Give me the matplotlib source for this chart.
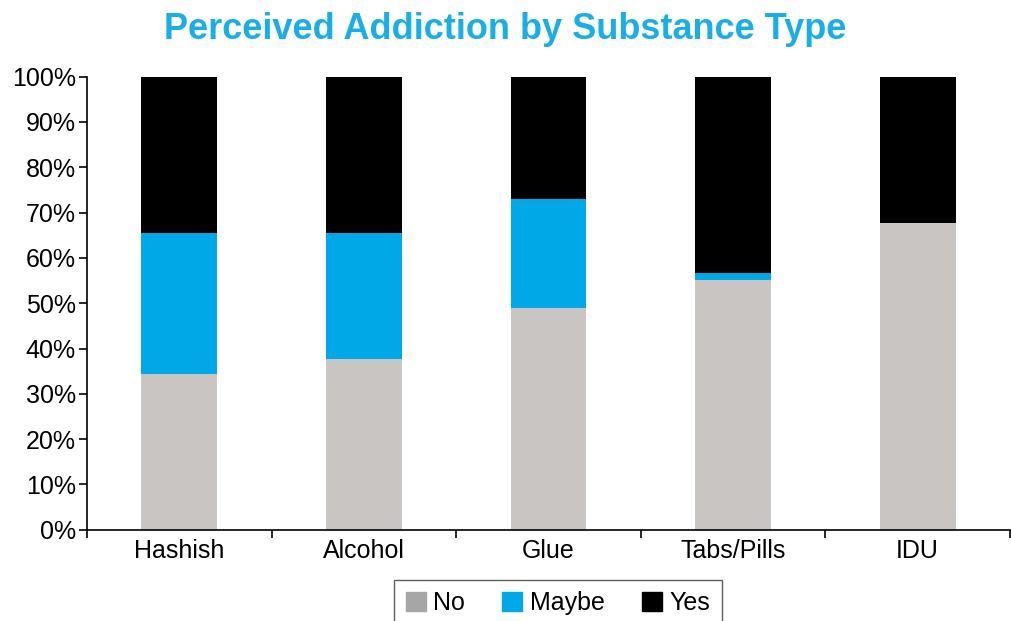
import matplotlib.pyplot as plt
import numpy as np
from matplotlib.patches import Patch
from matplotlib.ticker import FixedLocator, PercentFormatter

plt.rcParams['font.family'] = ['Liberation Sans', 'DejaVu Sans']

categories = ['Hashish', 'Alcohol', 'Glue', 'Tabs/Pills', 'IDU']
no = [34.3, 37.6, 49.0, 55.1, 67.8]
maybe = [31.2, 27.9, 23.9, 1.5, 0.0]
yes = [34.5, 34.5, 27.1, 43.4, 32.2]

grey = '#c8c5c3'
blue = '#00a8e8'
black = '#000000'

fig = plt.figure(figsize=(10.11, 6.21), dpi=100)
ax = fig.add_axes([0.086, 0.147, 0.913, 0.7295])

x = np.arange(len(categories))
w = 0.41
no_arr = np.array(no)
maybe_arr = np.array(maybe)
ax.bar(x, no_arr, width=w, color=grey, linewidth=0)
ax.bar(x, maybe_arr, width=w, bottom=no_arr, color=blue, linewidth=0)
ax.bar(x, yes, width=w, bottom=no_arr + maybe_arr, color=black, linewidth=0)

ax.set_xlim(-0.5, len(categories) - 0.5)
ax.set_ylim(0, 100)
ax.set_yticks(np.arange(0, 101, 10))
ax.yaxis.set_major_formatter(PercentFormatter(decimals=0))
ax.set_xticks(x)
ax.set_xticklabels(categories)
# category separators as minor ticks
ax.xaxis.set_minor_locator(FixedLocator(np.arange(-0.5, len(categories), 1.0)))
ax.tick_params(axis='x', which='major', length=0, pad=7, labelsize=18)
ax.tick_params(axis='x', which='minor', length=6, width=1.2, direction='out')
ax.tick_params(axis='y', length=6, width=1.2, direction='out', labelsize=18, pad=2)

for s in ['top', 'right']:
    ax.spines[s].set_visible(False)
for s in ['left', 'bottom']:
    ax.spines[s].set_linewidth(1.2)

fig.text(0.5, 0.952, 'Perceived Addiction by Substance Type', ha='center', va='center',
         fontsize=26, fontweight='bold', color='#1aaee8')

handles = [Patch(color='#a6a6a6'), Patch(color=blue), Patch(color=black)]
leg = fig.legend(handles, ['No', 'Maybe', 'Yes'], loc='upper center', ncol=3,
                 bbox_to_anchor=(0.552, 0.066), fontsize=18, frameon=True,
                 fancybox=False, edgecolor='#333333', handlelength=0.8,
                 handleheight=0.8, handletextpad=0.3, columnspacing=1.5,
                 borderpad=0.45, borderaxespad=0)
leg.get_frame().set_linewidth(1.0)

fig.savefig('out.png', dpi=100)
